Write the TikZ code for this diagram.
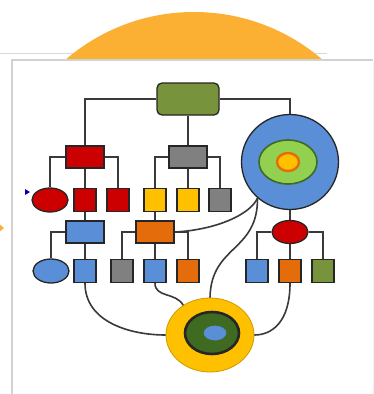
\documentclass[tikz,border=0pt]{standalone}
\usetikzlibrary{shapes.geometric}

\definecolor{sunorange}{HTML}{FBB034}
\definecolor{olive}{HTML}{77933C}
\definecolor{redfill}{HTML}{CC0000}
\definecolor{grayfill}{HTML}{808080}
\definecolor{yellowfill}{HTML}{FFC000}
\definecolor{bluefill}{HTML}{5A8ED6}
\definecolor{orangefill}{HTML}{E46C0A}
\definecolor{limegreen}{HTML}{92D050}
\definecolor{darkgreen}{HTML}{3F6A22}
\definecolor{wire}{HTML}{3A3A3A}
\definecolor{edge}{HTML}{262626}

\tikzset{
  outline/.style={draw=edge, line width=1.3pt, inner sep=0pt},
  wide/.style={outline, rectangle, minimum width=38pt, minimum height=22pt},
  tile/.style={outline, rectangle, minimum width=22pt, minimum height=23pt},
  oval/.style={outline, ellipse, minimum width=36pt, minimum height=24pt},
  link/.style={draw=wire, line width=1.6pt},
}

\begin{document}
\begin{tikzpicture}[x=1pt, y=-1pt]
  \useasboundingbox (0,0) rectangle (373,394);
  \fill[white] (0,0) rectangle (373,394);

  % backdrop: rule, sun disc (only its top shows), white panel
  \draw[gray!30, line width=1pt] (0,53) -- (327,53);
  \begin{scope}
    \clip (0,0) rectangle (373,60);
    \fill[sunorange] (194,209) circle (197pt);
  \end{scope}
  \fill[gray!12] (14,62) rectangle (376,398);
  \fill[white] (12,60) rectangle (373,394);
  \draw[gray!35, line width=1.5pt] (373,60) -- (12,60) -- (12,394);

  % small side markers
  \fill[blue!70!black] (25,189) -- (30,192) -- (25,195) -- cycle;
  \fill[sunorange] (-2,223) -- (4,228) -- (-2,233) -- cycle;

  % top level
  \node[outline, rectangle, rounded corners=5pt, fill=olive,
        minimum width=62pt, minimum height=32pt] (root) at (188,99) {};

  % second level
  \node[wide, fill=redfill]  (redhead)  at (85,157) {};
  \node[wide, fill=grayfill] (grayhead) at (188,157) {};
  \node[outline, ellipse, fill=bluefill, minimum width=97pt, minimum height=95pt] (hub) at (290,162) {};
  \node[outline, ellipse, draw=darkgreen, line width=1.6pt, fill=limegreen,
        minimum width=58pt, minimum height=44pt] (hubmid) at (288,162) {};
  \node[outline, ellipse, draw=orangefill, line width=2.4pt, fill=yellowfill,
        minimum width=22pt, minimum height=18pt] (hubcore) at (288,162) {};

  % third level
  \node[oval, fill=redfill]    (redoval) at (50,200) {};
  \node[tile, fill=redfill]    (red2)    at (85,200) {};
  \node[tile, fill=redfill]    (red3)    at (118,200) {};
  \node[tile, fill=yellowfill] (yel1)    at (155,200) {};
  \node[tile, fill=yellowfill] (yel2)    at (188,200) {};
  \node[tile, fill=grayfill]   (gray3)   at (220,200) {};

  % fourth level
  \node[wide, fill=bluefill]   (bluehead)   at (85,232) {};
  \node[wide, fill=orangefill] (orangehead) at (155,232) {};
  \node[oval, fill=redfill, minimum width=36pt, minimum height=23pt] (redhub) at (290,232) {};

  % bottom row
  \node[oval, fill=bluefill]   (blueoval) at (51,271) {};
  \node[tile, fill=bluefill]   (blue1)    at (85,271) {};
  \node[tile, fill=grayfill]   (gray4)    at (122,271) {};
  \node[tile, fill=bluefill]   (blue2)    at (155,271) {};
  \node[tile, fill=orangefill] (orange1)  at (188,271) {};
  \node[tile, fill=bluefill]   (blue3)    at (257,271) {};
  \node[tile, fill=orangefill] (orange2)  at (290,271) {};
  \node[tile, fill=olive]      (olive1)   at (323,271) {};

  % target at the bottom
  \node[outline, ellipse, draw=yellowfill!80!black, line width=0.8pt, fill=yellowfill,
        minimum width=88pt, minimum height=74pt] (target) at (210,335) {};
  \node[outline, ellipse, draw=black!85, line width=2.6pt, fill=darkgreen,
        minimum width=54pt, minimum height=42pt] (targetmid) at (212,333) {};
  \node[outline, ellipse, draw=darkgreen, line width=1pt, fill=bluefill,
        minimum width=24pt, minimum height=16pt] (targetcore) at (215,333) {};

  % tree wiring
  \draw[link] (root.west) -| (redhead.north);
  \draw[link] (root.east) -| (hub.north);
  \draw[link] (root.south) -- (grayhead.north);

  \draw[link] (redhead.west) -| (redoval.north);
  \draw[link] (redhead.east) -| (red3.north);
  \draw[link] (redhead.south) -- (red2.north);

  \draw[link] (grayhead.west) -| (yel1.north);
  \draw[link] (grayhead.east) -| (gray3.north);
  \draw[link] (grayhead.south) -- (yel2.north);

  \draw[link] (red2.south) -- (bluehead.north);
  \draw[link] (bluehead.west) -| (blueoval.north);
  \draw[link] (bluehead.south) -- (blue1.north);

  \draw[link] (yel1.south) -- (orangehead.north);
  \draw[link] (orangehead.west) -| (gray4.north);
  \draw[link] (orangehead.east) -| (orange1.north);
  \draw[link] (orangehead.south) -- (blue2.north);

  \draw[link] (hub.south) -- (redhub.north);
  \draw[link] (redhub.west) -| (blue3.north);
  \draw[link] (redhub.east) -| (olive1.north);
  \draw[link] (redhub.south) -- (orange2.north);

  % curved links
  \draw[link] (blue1.south) .. controls (85,322) and (130,335) .. (target.west);
  \draw[link] (blue2.south) .. controls (155,298) and (176,292) .. (target.132);
  \draw[link] (orange2.south) .. controls (290,322) and (272,335) .. (target.east);
  \draw[link] (target.north) .. controls (211,245) and (258,252) .. (hub.228);
  \draw[link] (orangehead.east) .. controls (215,230) and (250,215) .. (hub.228);
\end{tikzpicture}
\end{document}
